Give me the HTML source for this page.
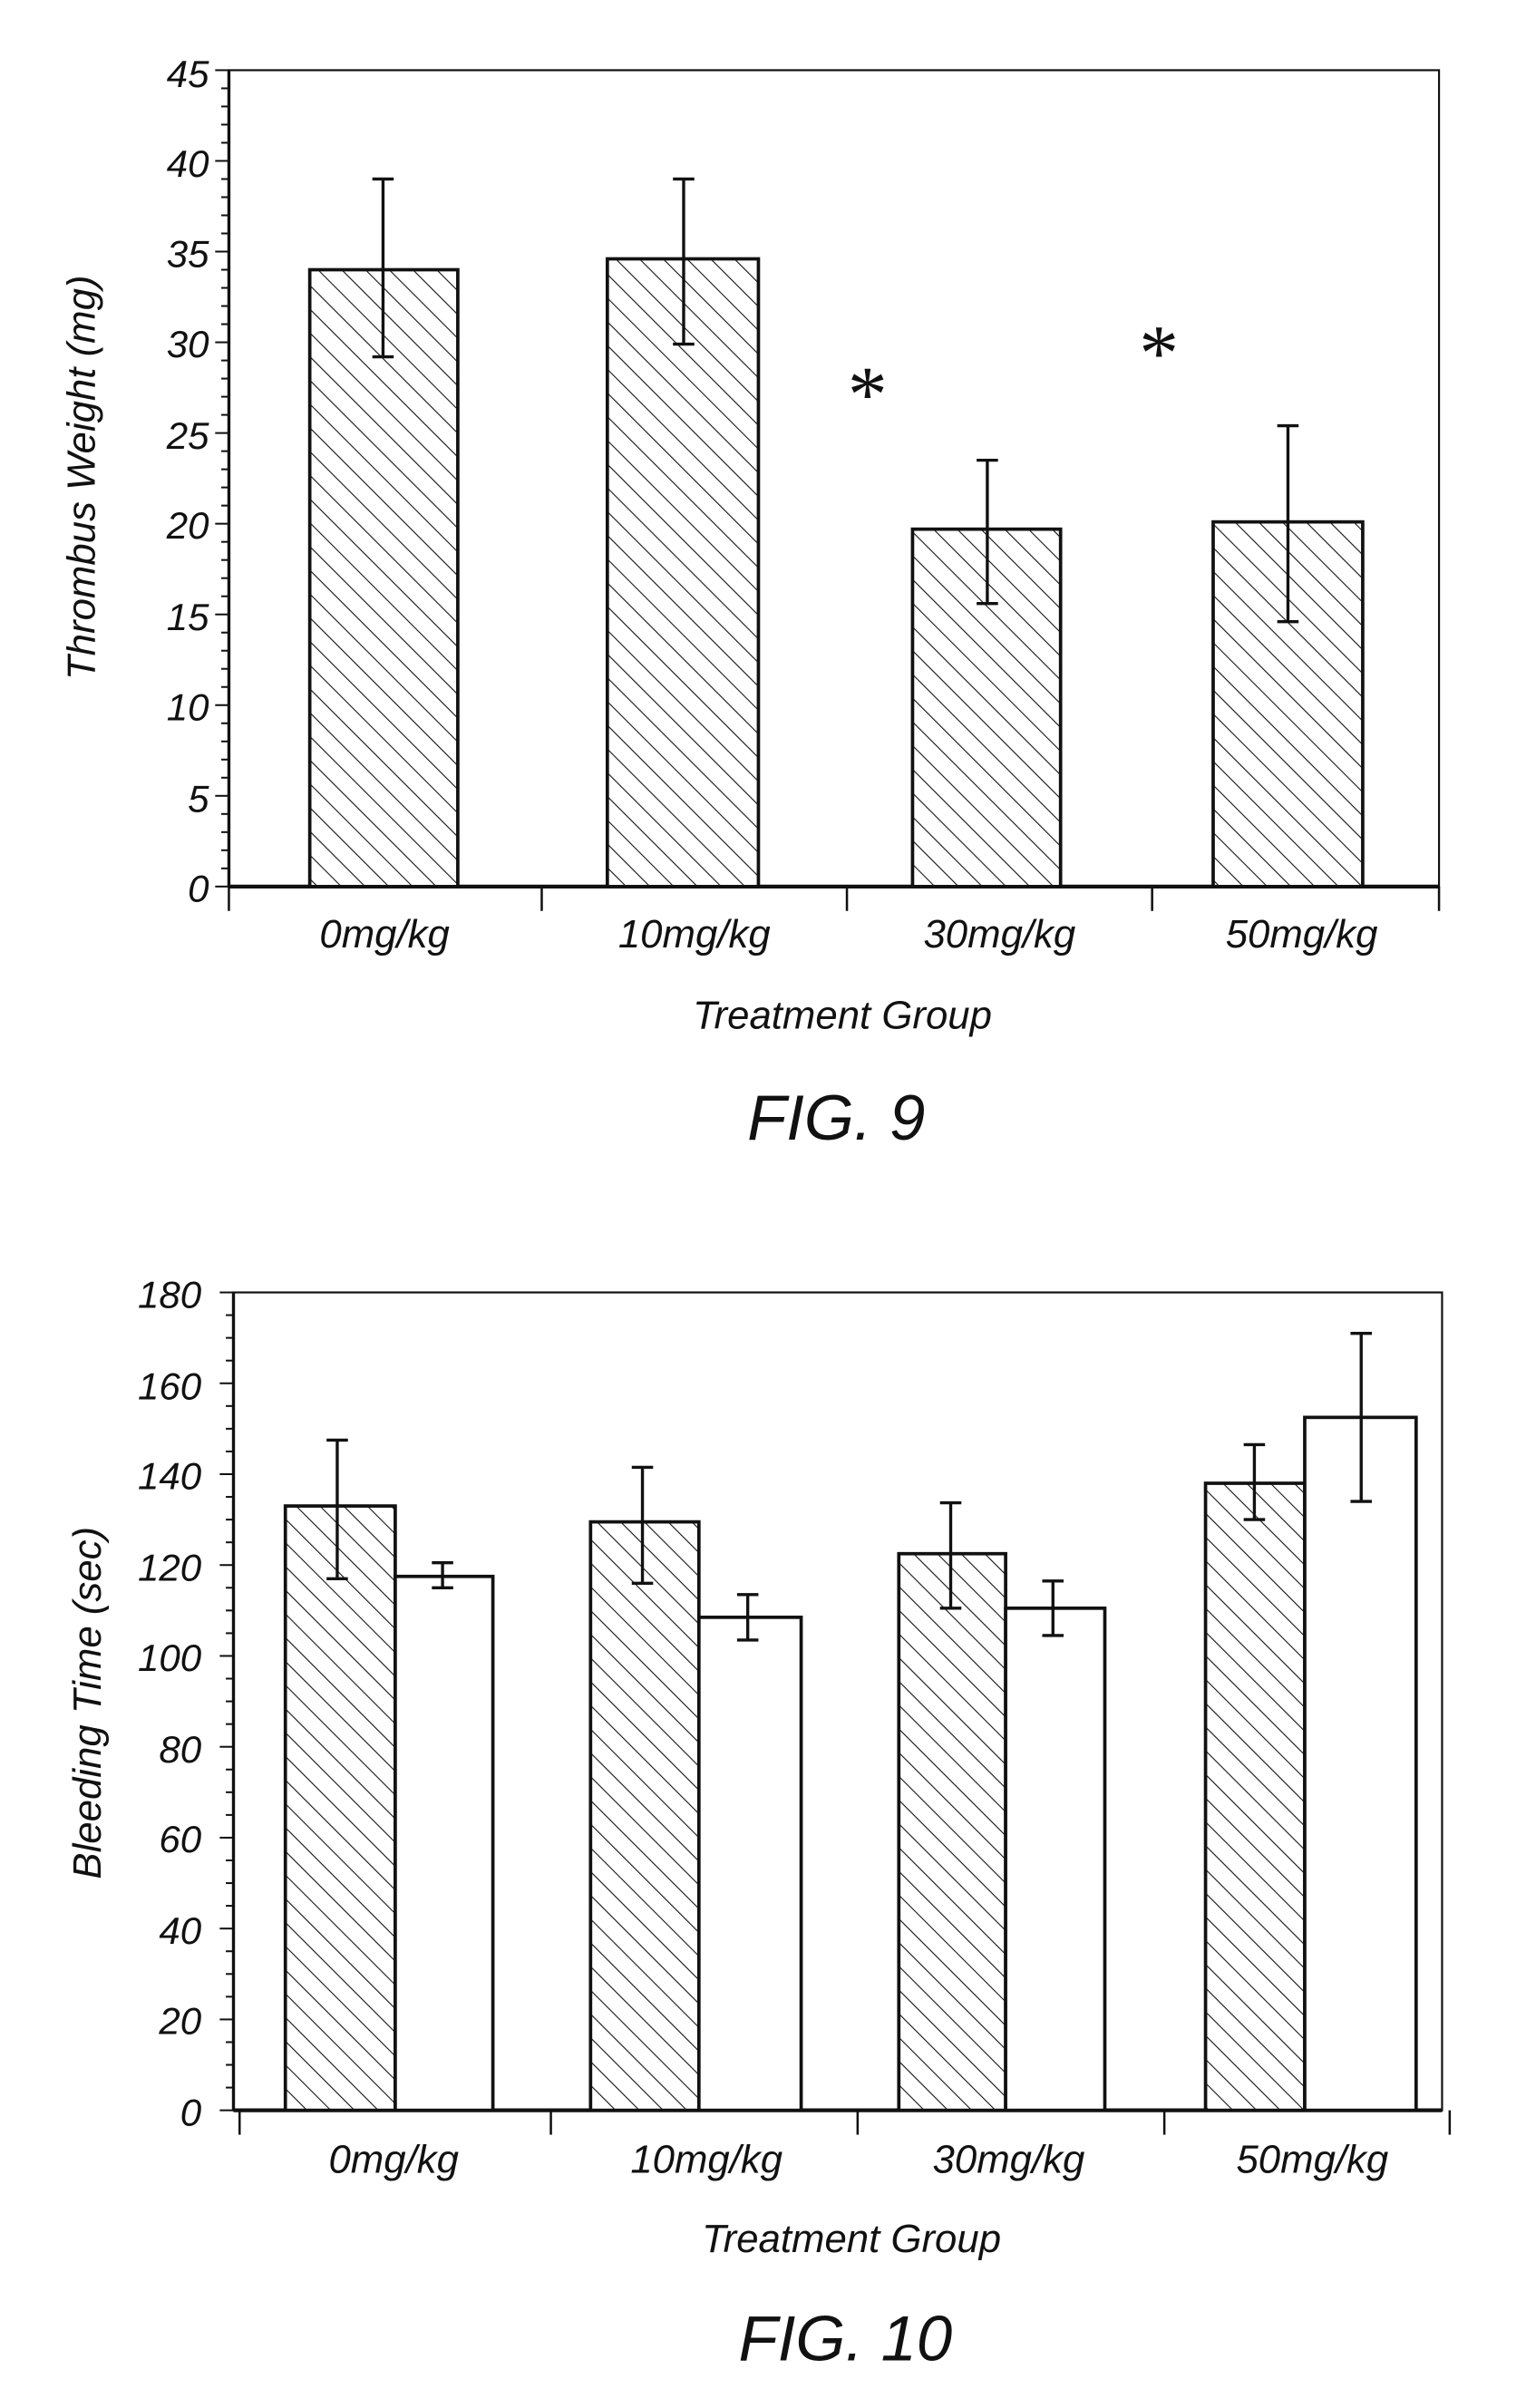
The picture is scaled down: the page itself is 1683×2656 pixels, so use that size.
<!DOCTYPE html>
<html><head><meta charset="utf-8"><style>
html,body{margin:0;padding:0;background:#fff}
svg{display:block}
text{font-family:"Liberation Sans",sans-serif;font-style:italic;fill:#111}
</style></head><body>
<svg id="s" width="1683" height="2656" viewBox="0 0 1000 1578.1" preserveAspectRatio="none" xmlns="http://www.w3.org/2000/svg">
<defs>
<pattern id="h" patternUnits="userSpaceOnUse" width="11" height="11" patternTransform="rotate(-45)">
<rect width="11" height="11" fill="#fff"/>
<line x1="0" y1="0" x2="0" y2="11" stroke="#111" stroke-width="1.3"/>
</pattern>
</defs>
<g id="g" stroke="#111" fill="none"></g>
<g font-size="25" text-anchor="end">
<text x="137" y="591">0</text><text x="137" y="532">5</text><text x="137" y="472">10</text><text x="137" y="413">15</text><text x="137" y="353">20</text><text x="137" y="294">25</text><text x="137" y="234">30</text><text x="137" y="175">35</text><text x="137" y="116">40</text><text x="137" y="57">45</text>
</g>
<text transform="translate(62,313) rotate(-90)" font-size="26" text-anchor="middle">Thrombus Weight (mg)</text>
<g font-size="26" text-anchor="middle">
<text x="252" y="621">0mg/kg</text><text x="455" y="621">10mg/kg</text><text x="655" y="621">30mg/kg</text><text x="853" y="621">50mg/kg</text>
<text x="552" y="674">Treatment Group</text>
<text x="548" y="747" font-size="42">FIG. 9</text>
<text x="566" y="276" font-size="52" font-style="normal" style="font-family:'Liberation Serif',serif">*</text>
<text x="757" y="249" font-size="52" font-style="normal" style="font-family:'Liberation Serif',serif">*</text>
</g>
<g font-size="25" text-anchor="end">
<text x="132" y="1393">0</text><text x="132" y="1333">20</text><text x="132" y="1274">40</text><text x="132" y="1214">60</text><text x="132" y="1155">80</text><text x="132" y="1095">100</text><text x="132" y="1036">120</text><text x="132" y="976">140</text><text x="132" y="917">160</text><text x="132" y="857">180</text>
</g>
<text transform="translate(66,1116) rotate(-90)" font-size="26" text-anchor="middle">Bleeding Time (sec)</text>
<g font-size="26" text-anchor="middle">
<text x="258" y="1424">0mg/kg</text><text x="463" y="1424">10mg/kg</text><text x="661" y="1424">30mg/kg</text><text x="860" y="1424">50mg/kg</text>
<text x="558" y="1476">Treatment Group</text>
<text x="554" y="1547" font-size="42">FIG. 10</text>
</g>
</svg>
<script>
var g=document.getElementById('g'),NS='http://www.w3.org/2000/svg';
function el(t,a){var e=document.createElementNS(NS,t);for(var k in a)e.setAttribute(k,a[k]);g.appendChild(e);return e;}
function ln(x1,y1,x2,y2,w){el('line',{x1:x1,y1:y1,x2:x2,y2:y2,'stroke-width':w||1.5});}
function chart(L,T,R,B,max,minorStep,majorStep,groups,bars,errs){
 var sc=(B-T)/max;function Y(v){return B-v*sc;}
 el('rect',{x:L,y:T,width:R-L,height:B-T,'stroke-width':1.3});
 ln(L,B,R,B,2.5);ln(L,T,L,B,2);
 for(var v=0;v<=max+1e-6;v+=minorStep){var maj=Math.abs(v/majorStep-Math.round(v/majorStep))<1e-6;ln(L-(maj?9:5),Y(v),L,Y(v),1.2);}
 groups.forEach(function(x){ln(x,B,x,B+16,1.5);});
 bars.forEach(function(b){el('rect',{x:b[0],y:Y(b[2]),width:b[1]-b[0],height:B-Y(b[2]),fill:b[3]?'url(#h)':'#fff','stroke-width':2.2});});
 errs.forEach(function(e){ln(e[0],Y(e[1]),e[0],Y(e[2]),2);ln(e[0]-7,Y(e[1]),e[0]+7,Y(e[1]),2);ln(e[0]-7,Y(e[2]),e[0]+7,Y(e[2]),2);});
}
chart(150,46,943,581,45,1,5,[150,355,555,755,943],
 [[203,300,34,1],[398,497,34.6,1],[598,695,19.7,1],[795,893,20.1,1]],
 [[251,39,29.2],[448,39,29.9],[647,23.5,15.6],[844,25.4,14.6]]);
chart(153,847,945,1383,180,5,20,[157,361,562,763,950],
 [[187,259,133,1],[259,323,117.5,0],[387,458,129.5,1],[458,525,108.5,0],[589,659,122.5,1],[659,724,110.5,0],[790,855,138,1],[855,928,152.5,0]],
 [[221,147.5,117],[290,120.5,115],[421,141.5,116],[490,113.5,103.5],[623,133.7,110.5],[690,116.5,104.5],[822,146.5,130],[892,171,134]]);
</script>
</body></html>
